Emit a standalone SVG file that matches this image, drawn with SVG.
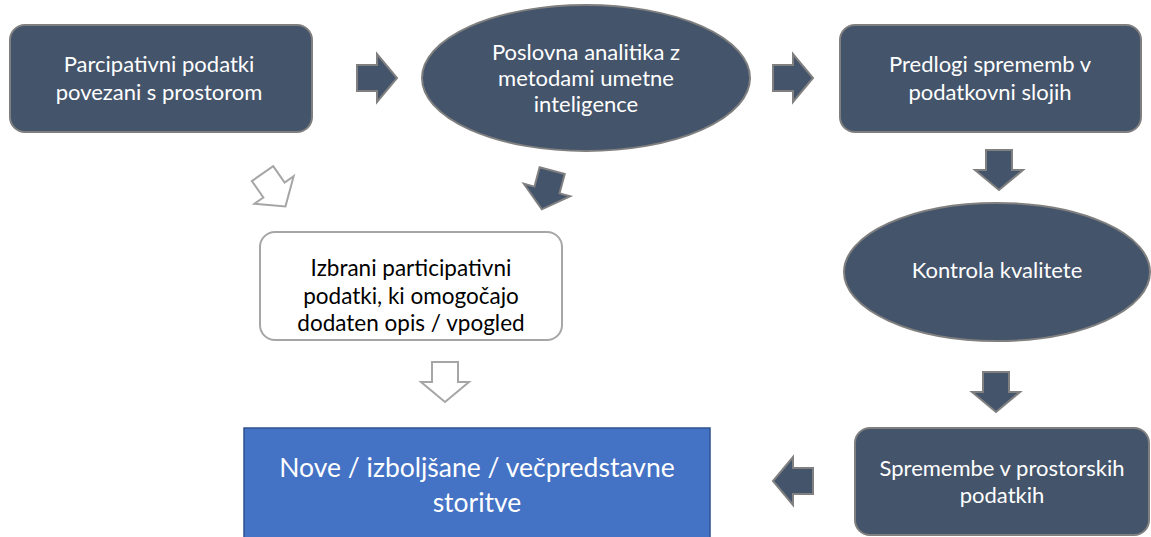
<svg xmlns="http://www.w3.org/2000/svg" width="1151" height="537" viewBox="0 0 1151 537">
  <style>
    .dark { fill: #44546A; stroke: #7F7F7F; stroke-width: 2; }
    .light { fill: #FFFFFF; stroke: #A6A6A6; stroke-width: 2; }
    .blue { fill: #4472C4; stroke: #2F528F; stroke-width: 1.5; }
    .arrow-dark { fill: #44546A; stroke: #808080; stroke-width: 2; stroke-linejoin: miter; }
    .arrow-hollow { fill: #FFFFFF; stroke: #A6A6A6; stroke-width: 2; stroke-linejoin: miter; }
    text { font-family: Lato, "Open Sans", "Liberation Sans", sans-serif; text-anchor: middle; }
    .wt { fill: #FFFFFF; font-size: 22px; }
    .bk { fill: #000000; font-size: 22.5px; }
    .big { fill: #FFFFFF; font-size: 26.5px; }
  </style>
  <defs>
    <!-- block arrow pointing right, centred on the origin -->
    <polygon id="blockArrow" points="-20,-13 0,-13 0,-24 20,0 0,24 0,13 -20,13"/>
  </defs>

  <rect width="1151" height="537" fill="#FFFFFF"/>

  <g id="connectors">
    <use href="#blockArrow" class="arrow-dark" transform="translate(377,78)"/>
    <use href="#blockArrow" class="arrow-dark" transform="translate(793,78)"/>
    <use href="#blockArrow" class="arrow-dark" transform="translate(999,170) rotate(90)"/>
    <use href="#blockArrow" class="arrow-dark" transform="translate(996,392) rotate(90)"/>
    <use href="#blockArrow" class="arrow-dark" transform="translate(793,481) rotate(180)"/>
    <use href="#blockArrow" class="arrow-dark" transform="translate(547,190) rotate(105)"/>
    <use href="#blockArrow" class="arrow-hollow" transform="translate(274,190) rotate(55)"/>
    <use href="#blockArrow" class="arrow-hollow" transform="translate(445,382) rotate(90)"/>
  </g>

  <g id="node-participatory-data">
    <rect class="dark" x="10" y="25" width="302" height="107" rx="15"/>
    <text class="wt" x="159" y="72">Parcipativni podatki</text>
    <text class="wt" x="159" y="100">povezani s prostorom</text>
  </g>

  <g id="node-business-analytics">
    <ellipse class="dark" cx="586" cy="78" rx="164" ry="73"/>
    <text class="wt" x="586" y="60">Poslovna analitika z</text>
    <text class="wt" x="586" y="86">metodami  umetne</text>
    <text class="wt" x="586" y="112">inteligence</text>
  </g>

  <g id="node-change-proposals">
    <rect class="dark" x="840" y="25" width="301" height="107" rx="15"/>
    <text class="wt" x="990" y="72">Predlogi sprememb v</text>
    <text class="wt" x="990" y="100">podatkovni  slojih</text>
  </g>

  <g id="node-quality-control">
    <ellipse class="dark" cx="997" cy="272" rx="153" ry="69"/>
    <text class="wt" x="997" y="278">Kontrola  kvalitete</text>
  </g>

  <g id="node-spatial-changes">
    <rect class="dark" x="855" y="428" width="294" height="107" rx="15"/>
    <text class="wt" x="1002" y="476">Spremembe  v prostorskih</text>
    <text class="wt" x="1002" y="503">podatkih</text>
  </g>

  <g id="node-selected-data">
    <rect class="light" x="260" y="232" width="302" height="108" rx="15"/>
    <text class="bk" x="411" y="276">Izbrani participativni</text>
    <text class="bk" x="411" y="304">podatki, ki omogočajo</text>
    <text class="bk" x="411" y="331">dodaten opis / vpogled</text>
  </g>

  <g id="node-services">
    <rect class="blue" x="244" y="428" width="466" height="115"/>
    <text class="big" x="477" y="477">Nove / izboljšane / večpredstavne</text>
    <text class="big" x="477" y="512">storitve</text>
  </g>
</svg>
